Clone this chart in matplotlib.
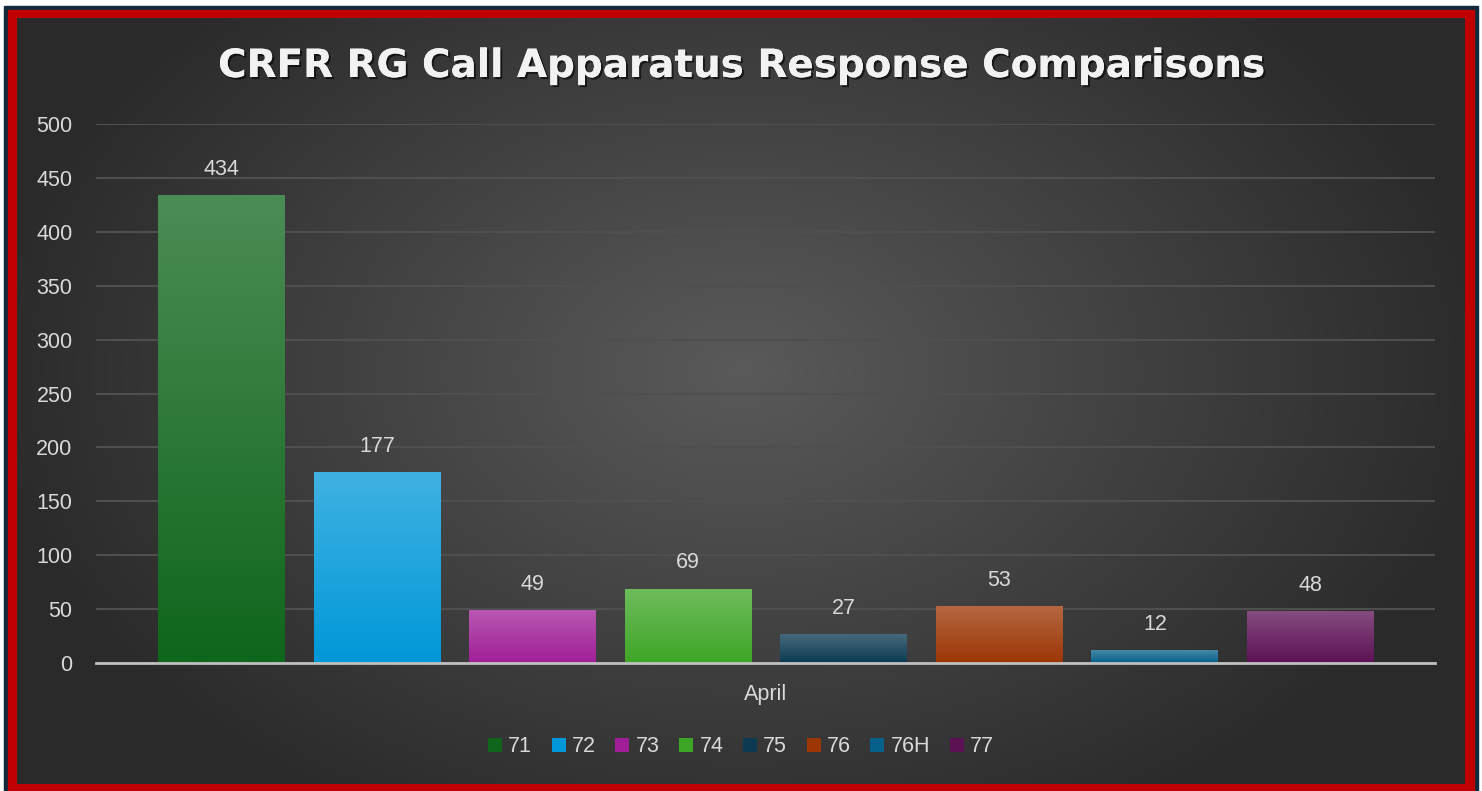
import numpy as np
import matplotlib
matplotlib.use("Agg")
import matplotlib.pyplot as plt
from matplotlib.patches import Rectangle, Patch
from matplotlib import patheffects as pe
from matplotlib.colors import to_rgb

# data
units = ["71", "72", "73", "74", "75", "76", "76H", "77"]
counts = [434, 177, 49, 69, 27, 53, 12, 48]
colors = ["#0f661c", "#0098d8", "#a01f98", "#3ea626", "#0b3a52", "#9c3605", "#06618a", "#5c1155"]
month = "April"
yticks = [0, 50, 100, 150, 200, 250, 300, 350, 400, 450, 500]

plt.rcParams['font.family'] = ['Liberation Sans', 'DejaVu Sans']
FS = 15.5

W, H = 1482, 791
fig = plt.figure(figsize=(W / 100, H / 100), dpi=100)
fig.patch.set_facecolor("white")

# background + borders
bg = fig.add_axes([0, 0, 1, 1])
bg.set_xlim(0, W)
bg.set_ylim(H, 0)
bg.axis("off")
bg.add_patch(Rectangle((4, 6), W - 8, H - 6, color="#0e2a3c", zorder=0))
bg.add_patch(Rectangle((8, 10), W - 16, H - 10, color="#c00000", zorder=1))
x0, y0, x1, y1 = 17, 18, 1465, 784
yy, xx = np.mgrid[y0:y1:2, x0:x1:2]
r = np.sqrt(((xx - 740) / 760.0) ** 2 + ((yy - 370) / 520.0) ** 2)
r = np.clip(r, 0, 1)
c_in, c_out = np.array(to_rgb("#5a5a5a")), np.array(to_rgb("#2a2a2a"))
img = c_in[None, None, :] * (1 - r[..., None]) + c_out[None, None, :] * r[..., None]
bg.imshow(img, extent=[x0, x1, y1, y0], aspect="auto", zorder=2, interpolation="bilinear")
bg.set_xlim(0, W)
bg.set_ylim(H, 0)

# main axes
ax = fig.add_axes([96 / W, 1 - 663 / H, (1435 - 96) / W, (663 - 124) / H])
ax.patch.set_alpha(0)
x = np.arange(len(units))
bars = ax.bar(x, counts, width=0.816, color=colors, zorder=3)

# gradient fill for each bar
for b, c in zip(bars, colors):
    base = np.array(to_rgb(c))
    top = base + (1 - base) * 0.25
    t = np.linspace(0, 1, 64)[:, None]
    grad = top[None, :] * (1 - t) + base[None, :] * t
    grad = np.repeat(grad[:, None, :], 2, axis=1)
    bx, bw, bh = b.get_x(), b.get_width(), b.get_height()
    im = ax.imshow(grad, extent=[bx, bx + bw, 0, bh], aspect="auto", zorder=4,
                   interpolation="bilinear")
    im.set_clip_path(b)

ax.set_xlim(-0.807, 7.80)
ax.set_ylim(0, 500)
ax.set_yticks(yticks)
ax.set_xticks([3.5])
ax.set_xticklabels([month])
ax.yaxis.grid(True, color="#4f4f4f", linewidth=1.5, zorder=1)
ax.set_axisbelow(True)
for s in ["top", "right", "left"]:
    ax.spines[s].set_visible(False)
ax.spines["bottom"].set_color("#c0c0c0")
ax.spines["bottom"].set_linewidth(2)
ax.spines["bottom"].set_zorder(5)
ax.tick_params(axis="both", length=0, colors="#d9d9d9", labelsize=FS)
ax.tick_params(axis="y", pad=17)
ax.tick_params(axis="x", pad=15)

lbls = ax.bar_label(bars, labels=[str(v) for v in counts], padding=11,
                    color="#d9d9d9", fontsize=FS)

# title
fig.text(0.5, 1 - 66 / H, "CRFR RG Call Apparatus Response Comparisons",
         ha="center", va="center", fontsize=28, fontweight="bold",
         color="#f2f2f2", family="DejaVu Sans",
         path_effects=[pe.withSimplePatchShadow(offset=(1.5, -1.5), shadow_rgbFace="black", alpha=0.6),
                       pe.Normal()])

# legend
handles = [Patch(facecolor=c, edgecolor="none") for c in colors]
leg = fig.legend(handles, units, loc="center", bbox_to_anchor=(0.5, 1 - 747 / H),
                 ncol=len(units), frameon=False, fontsize=FS,
                 handlelength=0.65, handleheight=0.65, handletextpad=0.3,
                 columnspacing=0.9, labelcolor="#d9d9d9")

fig.savefig("out.png", dpi=100)
